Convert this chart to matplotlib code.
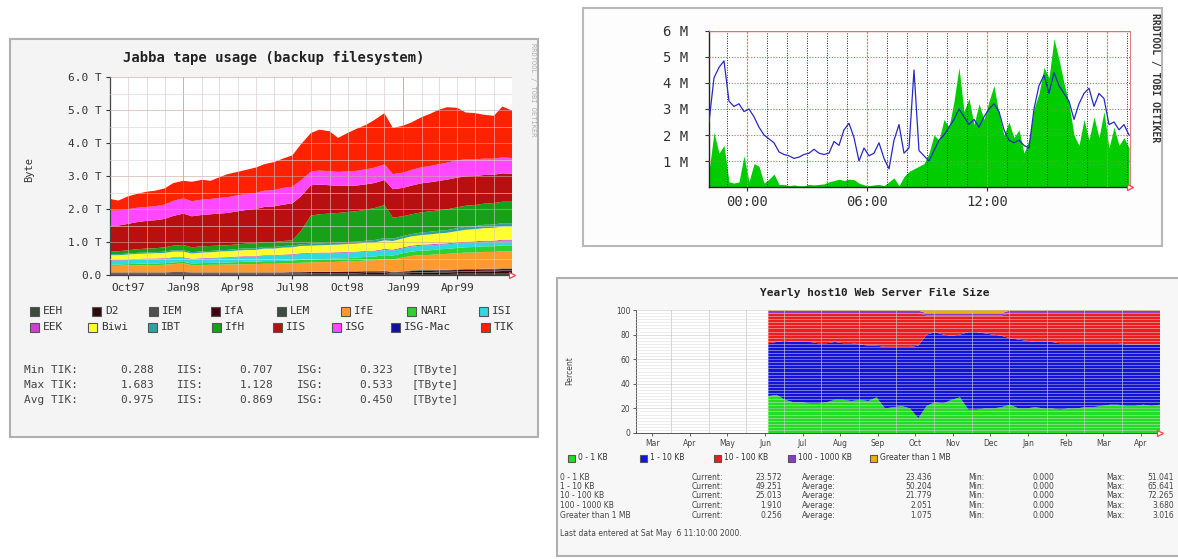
import matplotlib
matplotlib.use('Agg')
import matplotlib.pyplot as plt
import matplotlib.dates as mdates
import numpy as np
import pandas as pd
from matplotlib.patches import Rectangle

# ---------------- data: panel 1 (Jabba tape usage, TByte, semi-monthly) ----------------
p1_names = ['EEH', 'D2', 'IEM', 'IfA', 'LEM', 'IfE', 'NARI', 'ISI',
            'EEK', 'Biwi', 'IBT', 'IfH', 'IIS', 'ISG', 'ISG-Mac', 'TIK']
p1_colors = ['#3f4a3f', '#2e0a0a', '#505050', '#42000e', '#3c4c44', '#ff9a30', '#30d030', '#30d8e0',
             '#d040d0', '#ffff30', '#30a0a0', '#18a018', '#b81010', '#ff48ff', '#1010a0', '#ff2200']
p1_start = '1997-09-01'
EEH = [0.02, 0.02, 0.02, 0.02, 0.02, 0.02, 0.02, 0.02, 0.02, 0.02,
       0.02, 0.02, 0.02, 0.02, 0.02, 0.02, 0.02, 0.02, 0.02, 0.02,
       0.02, 0.02, 0.03, 0.03, 0.03, 0.03, 0.03, 0.03, 0.03, 0.03,
       0.03, 0.02, 0.02, 0.03, 0.03, 0.03, 0.03, 0.03, 0.04, 0.04,
       0.04, 0.04, 0.04, 0.04, 0.04]
D2 = [0.02, 0.02, 0.02, 0.02, 0.02, 0.02, 0.02, 0.03, 0.03, 0.02,
      0.02, 0.02, 0.02, 0.02, 0.02, 0.02, 0.02, 0.02, 0.02, 0.02,
      0.02, 0.02, 0.02, 0.02, 0.02, 0.02, 0.02, 0.02, 0.03, 0.03,
      0.03, 0.02, 0.03, 0.03, 0.04, 0.04, 0.05, 0.05, 0.05, 0.06,
      0.06, 0.07, 0.07, 0.08, 0.08]
IEM = [0.01, 0.01, 0.01, 0.01, 0.01, 0.01, 0.01, 0.01, 0.01, 0.01,
       0.01, 0.01, 0.01, 0.01, 0.01, 0.01, 0.01, 0.01, 0.01, 0.01,
       0.01, 0.01, 0.01, 0.01, 0.01, 0.01, 0.01, 0.01, 0.01, 0.01,
       0.02, 0.01, 0.02, 0.02, 0.02, 0.02, 0.02, 0.02, 0.02, 0.02,
       0.02, 0.02, 0.02, 0.02, 0.02]
IfA = [0.02, 0.02, 0.02, 0.02, 0.02, 0.02, 0.02, 0.02, 0.02, 0.02,
       0.02, 0.02, 0.02, 0.02, 0.02, 0.02, 0.02, 0.02, 0.02, 0.02,
       0.03, 0.03, 0.03, 0.03, 0.03, 0.03, 0.03, 0.03, 0.03, 0.03,
       0.03, 0.02, 0.02, 0.04, 0.04, 0.04, 0.04, 0.04, 0.04, 0.04,
       0.04, 0.04, 0.04, 0.04, 0.04]
LEM = [0.01, 0.01, 0.01, 0.01, 0.01, 0.01, 0.01, 0.01, 0.01, 0.01,
       0.01, 0.01, 0.01, 0.01, 0.01, 0.01, 0.01, 0.01, 0.01, 0.01,
       0.01, 0.01, 0.01, 0.01, 0.01, 0.01, 0.02, 0.02, 0.02, 0.02,
       0.02, 0.02, 0.02, 0.02, 0.02, 0.02, 0.02, 0.02, 0.02, 0.02,
       0.02, 0.02, 0.02, 0.02, 0.02]
IfE = [0.20, 0.20, 0.21, 0.21, 0.22, 0.22, 0.23, 0.24, 0.26, 0.22,
       0.22, 0.23, 0.23, 0.24, 0.24, 0.25, 0.25, 0.26, 0.26, 0.27,
       0.27, 0.28, 0.28, 0.29, 0.29, 0.30, 0.30, 0.31, 0.32, 0.33,
       0.35, 0.38, 0.42, 0.44, 0.45, 0.46, 0.47, 0.48, 0.49, 0.50,
       0.50, 0.51, 0.51, 0.52, 0.52]
NARI = [0.04, 0.04, 0.04, 0.05, 0.05, 0.05, 0.05, 0.05, 0.05, 0.05,
        0.06, 0.06, 0.06, 0.06, 0.07, 0.07, 0.07, 0.08, 0.08, 0.08,
        0.08, 0.09, 0.09, 0.09, 0.10, 0.10, 0.10, 0.11, 0.11, 0.11,
        0.12, 0.12, 0.13, 0.13, 0.14, 0.14, 0.15, 0.15, 0.16, 0.16,
        0.17, 0.17, 0.17, 0.18, 0.18]
ISI = [0.12, 0.12, 0.12, 0.13, 0.13, 0.13, 0.13, 0.14, 0.12, 0.12,
       0.13, 0.13, 0.14, 0.14, 0.15, 0.15, 0.15, 0.16, 0.16, 0.17,
       0.17, 0.18, 0.18, 0.18, 0.17, 0.17, 0.17, 0.16, 0.16, 0.16,
       0.16, 0.15, 0.15, 0.15, 0.15, 0.15, 0.14, 0.14, 0.14, 0.14,
       0.14, 0.14, 0.14, 0.14, 0.14]
EEK = [0.02, 0.02, 0.02, 0.02, 0.02, 0.02, 0.02, 0.02, 0.02, 0.02,
       0.02, 0.02, 0.02, 0.02, 0.02, 0.02, 0.02, 0.02, 0.02, 0.02,
       0.02, 0.02, 0.02, 0.02, 0.02, 0.02, 0.02, 0.02, 0.02, 0.02,
       0.03, 0.03, 0.03, 0.03, 0.03, 0.03, 0.03, 0.03, 0.03, 0.03,
       0.03, 0.03, 0.03, 0.03, 0.03]
Biwi = [0.14, 0.14, 0.15, 0.15, 0.15, 0.16, 0.16, 0.17, 0.17, 0.16,
        0.17, 0.17, 0.18, 0.18, 0.18, 0.19, 0.19, 0.20, 0.20, 0.21,
        0.21, 0.22, 0.22, 0.22, 0.23, 0.23, 0.24, 0.24, 0.25, 0.25,
        0.26, 0.26, 0.27, 0.28, 0.29, 0.30, 0.31, 0.32, 0.34, 0.36,
        0.37, 0.38, 0.39, 0.40, 0.40]
IBT = [0.03, 0.03, 0.03, 0.03, 0.03, 0.03, 0.04, 0.04, 0.04, 0.04,
       0.04, 0.04, 0.04, 0.04, 0.05, 0.05, 0.05, 0.05, 0.05, 0.05,
       0.05, 0.05, 0.06, 0.06, 0.06, 0.06, 0.06, 0.06, 0.06, 0.07,
       0.07, 0.07, 0.07, 0.07, 0.08, 0.08, 0.08, 0.08, 0.09, 0.09,
       0.09, 0.10, 0.10, 0.10, 0.10]
IfH = [0.08, 0.09, 0.10, 0.11, 0.12, 0.12, 0.13, 0.14, 0.16, 0.15,
       0.15, 0.15, 0.14, 0.14, 0.14, 0.14, 0.15, 0.15, 0.15, 0.15,
       0.16, 0.40, 0.85, 0.88, 0.89, 0.90, 0.91, 0.92, 0.94, 0.97,
       1.00, 0.64, 0.60, 0.60, 0.61, 0.62, 0.62, 0.63, 0.63, 0.64,
       0.64, 0.64, 0.65, 0.65, 0.65]
IIS = [0.78, 0.78, 0.80, 0.82, 0.84, 0.85, 0.86, 0.90, 0.95, 0.94,
       0.95, 0.96, 0.97, 0.98, 1.00, 1.02, 1.04, 1.06, 1.08, 1.10,
       1.12, 1.05, 0.92, 0.90, 0.86, 0.82, 0.80, 0.78, 0.77, 0.76,
       0.76, 0.86, 0.86, 0.87, 0.88, 0.88, 0.89, 0.90, 0.90, 0.89,
       0.88, 0.87, 0.86, 0.86, 0.85]
ISG = [0.46, 0.45, 0.44, 0.43, 0.42, 0.42, 0.43, 0.45, 0.46, 0.45,
       0.46, 0.46, 0.47, 0.47, 0.48, 0.48, 0.48, 0.49, 0.49, 0.50,
       0.50, 0.48, 0.41, 0.42, 0.42, 0.42, 0.43, 0.44, 0.45, 0.46,
       0.47, 0.45, 0.46, 0.47, 0.48, 0.49, 0.50, 0.51, 0.52, 0.51,
       0.50, 0.49, 0.48, 0.48, 0.47]
ISG_Mac = [0.005, 0.005, 0.005, 0.005, 0.005, 0.005, 0.005, 0.005, 0.005, 0.005,
           0.005, 0.005, 0.005, 0.005, 0.005, 0.005, 0.005, 0.005, 0.005, 0.005,
           0.005, 0.005, 0.005, 0.005, 0.005, 0.005, 0.005, 0.005, 0.005, 0.005,
           0.005, 0.005, 0.005, 0.005, 0.005, 0.005, 0.005, 0.005, 0.005, 0.005,
           0.005, 0.005, 0.005, 0.005, 0.005]
TIK = [0.35, 0.30, 0.39, 0.42, 0.46, 0.47, 0.49, 0.54, 0.53, 0.59,
       0.60, 0.55, 0.62, 0.70, 0.71, 0.73, 0.77, 0.80, 0.85, 0.89,
       0.95, 1.09, 1.17, 1.24, 1.21, 1.03, 1.16, 1.27, 1.35, 1.45,
       1.55, 1.40, 1.42, 1.44, 1.52, 1.58, 1.65, 1.68, 1.59, 1.42,
       1.40, 1.33, 1.30, 1.54, 1.44]
p1_series = [EEH, D2, IEM, IfA, LEM, IfE, NARI, ISI, EEK, Biwi, IBT, IfH, IIS, ISG, ISG_Mac, TIK]
p1_yticklabels = ['0.0', '1.0 T', '2.0 T', '3.0 T', '4.0 T', '5.0 T', '6.0 T']
p1_xticks = ['1997-10-01', '1998-01-01', '1998-04-01', '1998-07-01', '1998-10-01', '1999-01-01', '1999-04-01']
p1_xticklabels = ['Oct97', 'Jan98', 'Apr98', 'Jul98', 'Oct98', 'Jan99', 'Apr99']
p1_stats = [['Min TIK:', '0.288', 'IIS:', '0.707', 'ISG:', '0.323', '[TByte]'],
            ['Max TIK:', '1.683', 'IIS:', '1.128', 'ISG:', '0.533', '[TByte]'],
            ['Avg TIK:', '0.975', 'IIS:', '0.869', 'ISG:', '0.450', '[TByte]']]

# ---------------- data: panel 2 (traffic, M, 15-min steps from 22:06) ----------------
p2_in = [0.6, 2.1, 1.3, 1.6, 0.2, 0.15, 0.2, 1.2, 0.2, 0.9,
         0.8, 0.15, 0.3, 0.5, 0.1, 0.1, 0.05, 0.08, 0.05, 0.05,
         0.1, 0.08, 0.1, 0.12, 0.2, 0.25, 0.3, 0.25, 0.3, 0.28,
         0.15, 0.08, 0.05, 0.08, 0.1, 0.05, 0.2, 0.35, 0.05, 0.4,
         0.6, 0.7, 0.8, 0.9, 1.3, 2.0, 1.8, 2.6, 2.3, 3.3,
         4.6, 2.9, 3.4, 2.4, 3.2, 2.6, 3.3, 3.9, 2.8, 2.0,
         2.5, 1.9, 2.2, 1.3, 1.8, 3.0, 3.6, 4.6, 4.2, 5.7,
         4.9, 4.0, 3.2, 2.0, 1.6, 2.6, 1.8, 2.7, 1.9, 2.9,
         1.5, 2.3, 1.6, 1.9, 1.5]
p2_out = [2.5, 4.2, 4.6, 4.85, 3.3, 3.1, 3.2, 2.9, 3.0, 2.7,
          2.3, 2.0, 1.85, 1.7, 1.35, 1.25, 1.2, 1.1, 1.15, 1.25,
          1.3, 1.45, 1.3, 1.25, 1.3, 1.75, 1.6, 2.2, 2.45, 1.9,
          1.0, 1.5, 1.2, 1.3, 1.7, 1.1, 0.7, 1.8, 2.4, 1.3,
          1.5, 4.5, 1.4, 1.2, 1.0, 1.4, 1.8, 2.0, 2.3, 2.6,
          3.0, 2.7, 2.4, 2.6, 2.3, 2.7, 3.0, 3.2, 2.9, 2.2,
          1.8, 1.7, 1.8, 1.6, 1.5, 3.0, 3.9, 4.3, 3.6, 4.4,
          3.9, 3.6, 3.3, 2.6, 3.2, 3.6, 3.8, 3.1, 3.6, 3.4,
          2.4, 2.5, 2.2, 2.4, 2.0]
p2_yticklabels = ['1 M', '2 M', '3 M', '4 M', '5 M', '6 M']
p2_xticklabels = ['00:00', '06:00', '12:00']

# ---------------- data: panel 3 (file size percentages, weekly) ----------------
p3_names = ['0 - 1 KB', '1 - 10 KB', '10 - 100 KB', '100 - 1000 KB', 'Greater than 1 MB']
p3_colors = ['#22dd22', '#1414d8', '#ee1c1c', '#8a3cc8', '#e8b000']
p3_0_1 = [30, 31, 27, 25, 25, 24, 24, 25, 27, 27,
          26, 27, 26, 29, 20, 21, 22, 20, 12, 22,
          25, 24, 27, 29, 19, 19, 20, 20, 21, 23,
          20, 20, 21, 20, 20, 19, 20, 20, 21, 21,
          22, 23, 23, 22, 22, 23, 22, 23]
p3_1_10 = [43, 43, 48, 49, 49, 50, 49, 48, 47, 46,
           47, 45, 45, 42, 50, 49, 48, 50, 59, 58,
           57, 56, 52, 51, 63, 63, 61, 60, 58, 54,
           56, 55, 53, 54, 54, 54, 53, 53, 52, 52,
           51, 50, 50, 50, 50, 49, 50, 49]
p3_10_100 = [24.5, 23.5, 22.5, 23.5, 23.5, 23.5, 24.5, 24.5, 23.5, 24.5,
             24.5, 25.5, 26.5, 26.5, 27.5, 27.5, 27.5, 27.5, 26.5, 15.5,
             13.5, 15.5, 16.5, 15.5, 13.5, 13.5, 14.5, 15.5, 16.5, 20.6,
             21.6, 22.6, 23.6, 23.6, 23.6, 24.6, 24.6, 24.6, 24.6, 24.6,
             24.6, 24.6, 24.6, 25.6, 25.6, 25.6, 25.6, 25.6]
p3_100_1000 = [2.0, 2.0, 2.0, 2.0, 2.0, 2.0, 2.0, 2.0, 2.0, 2.0,
               2.0, 2.0, 2.0, 2.0, 2.0, 2.0, 2.0, 2.0, 2.0, 2.0,
               2.0, 2.0, 2.0, 2.0, 2.0, 2.0, 2.0, 2.0, 2.0, 2.0,
               2.0, 2.0, 2.0, 2.0, 2.0, 2.0, 2.0, 2.0, 2.0, 2.0,
               2.0, 2.0, 2.0, 2.0, 2.0, 1.9, 1.9, 1.9]
p3_gt_1mb = [0.5, 0.5, 0.5, 0.5, 0.5, 0.5, 0.5, 0.5, 0.5, 0.5,
             0.5, 0.5, 0.5, 0.5, 0.5, 0.5, 0.5, 0.5, 0.5, 2.5,
             2.5, 2.5, 2.5, 2.5, 2.5, 2.5, 2.5, 2.5, 2.5, 0.4,
             0.4, 0.4, 0.4, 0.4, 0.4, 0.4, 0.4, 0.4, 0.4, 0.4,
             0.4, 0.4, 0.4, 0.4, 0.4, 0.4, 0.4, 0.4]
p3_xticklabels = ['Mar', 'Apr', 'May', 'Jun', 'Jul', 'Aug', 'Sep', 'Oct', 'Nov', 'Dec', 'Jan', 'Feb', 'Mar', 'Apr']
p3_yticklabels = ['0', '20', '40', '60', '80', '100']
p3_stats = [['0 - 1 KB', '23.572', '23.436', '0.000', '51.041'],
            ['1 - 10 KB', '49.251', '50.204', '0.000', '65.641'],
            ['10 - 100 KB', '25.013', '21.779', '0.000', '72.265'],
            ['100 - 1000 KB', '1.910', '2.051', '0.000', '3.680'],
            ['Greater than 1 MB', '0.256', '1.075', '0.000', '3.016']]

# ---------------- figure helpers ----------------
W, H = 1178, 559
fig = plt.figure(figsize=(W / 100, H / 100), dpi=100)
fig.patch.set_facecolor('white')
MONO = 'DejaVu Sans Mono'
SANS = 'DejaVu Sans'


def box(x0, y0, x1, y1):
    return [x0 / W, 1 - y1 / H, (x1 - x0) / W, (y1 - y0) / H]


def frame(x0, y0, x1, y1, fc, ec, lw=1.2, z=0):
    r = Rectangle((x0 / W, 1 - y1 / H), (x1 - x0) / W, (y1 - y0) / H, transform=fig.transFigure,
                  facecolor=fc, edgecolor=ec, lw=lw, zorder=z)
    fig.add_artist(r)


def ftext(x, y, s, **kw):
    kw.setdefault('va', 'center')
    fig.text(x / W, 1 - y / H, s, **kw)


def square(x, y, c, s=9):
    r = Rectangle((x / W, 1 - (y + s / 2) / H), s / W, s / H, transform=fig.transFigure,
                  facecolor=c, edgecolor='#555555', lw=0.8, zorder=5)
    fig.add_artist(r)


def arrow(ax):
    ax.plot([1.0], [0.0], marker='>', ms=5, mfc='white', mec='#ff4040', mew=0.9,
            transform=ax.transAxes, clip_on=False, zorder=10)

# ---------------- panel 1 ----------------
frame(10, 39, 538, 437, '#f4f4f4', '#b0b0b0', lw=1.5)
ax1 = fig.add_axes(box(110, 77, 512, 275))
ax1.set_facecolor('white')
d1 = pd.date_range(p1_start, periods=len(TIK), freq='SMS')
x1 = mdates.date2num(d1)
ax1.stackplot(x1, *p1_series, colors=p1_colors, lw=0, zorder=2)
ax1.set_xlim(x1[0], x1[-1])
ax1.set_ylim(0, 6)
for m in pd.date_range('1997-10-01', '1999-07-01', freq='MS'):
    xm = mdates.date2num(m)
    c = '#a08080' if m.month == 1 else '#d8c4c4'
    ax1.axvline(xm, color=c, lw=0.6, alpha=0.7, zorder=3)
for v in np.arange(0.5, 6.01, 0.5):
    c = '#c8a8a8' if abs(v - round(v)) < 1e-6 else '#e0d4d4'
    ax1.axhline(v, color=c, lw=0.6, alpha=0.7, zorder=3)
ax1.set_yticks(range(7))
ax1.set_yticklabels(p1_yticklabels, family=MONO, fontsize=8, color='#333333')
ax1.set_xticks(mdates.date2num(pd.to_datetime(p1_xticks)))
ax1.set_xticklabels(p1_xticklabels, family=MONO, fontsize=8, color='#333333')
ax1.tick_params(axis='both', length=3, width=0.8, color='#333333', pad=3)
for s in ['top', 'right']:
    ax1.spines[s].set_visible(False)
for s in ['left', 'bottom']:
    ax1.spines[s].set_color('#444444')
    ax1.spines[s].set_linewidth(0.9)
arrow(ax1)
ftext(274, 58, 'Jabba tape usage (backup filesystem)', ha='center', family=MONO,
      fontsize=10, fontweight='bold', color='#222222')
ftext(29, 170, 'Byte', ha='center', rotation=90, family=MONO, fontsize=7.5, color='#333333')
ftext(533, 43, 'RRDTOOL / TOBI OETIKER', ha='center', va='top', rotation=270, family=MONO,
      fontsize=5, color='#b0b0b0')
leg_x = [[30, 92, 149, 211, 277, 341, 407, 479], [30, 88, 148, 212, 273, 332, 391, 481]]
leg_y = [311, 327]
for r in range(2):
    for c in range(8):
        idx = r * 8 + c
        square(leg_x[r][c], leg_y[r], p1_colors[idx])
        ftext(leg_x[r][c] + 13, leg_y[r], p1_names[idx], ha='left', family=MONO,
              fontsize=8, color='#333333')
stat_y = [370, 385, 400]
for r, row in enumerate(p1_stats):
    ftext(24, stat_y[r], row[0], ha='left', family=MONO, fontsize=8, color='#444444')
    ftext(154, stat_y[r], row[1], ha='right', family=MONO, fontsize=8, color='#444444')
    ftext(177, stat_y[r], row[2], ha='left', family=MONO, fontsize=8, color='#444444')
    ftext(273, stat_y[r], row[3], ha='right', family=MONO, fontsize=8, color='#444444')
    ftext(297, stat_y[r], row[4], ha='left', family=MONO, fontsize=8, color='#444444')
    ftext(393, stat_y[r], row[5], ha='right', family=MONO, fontsize=8, color='#444444')
    ftext(411, stat_y[r], row[6], ha='left', family=MONO, fontsize=8, color='#444444')

# ---------------- panel 2 ----------------
frame(583, 8, 1162, 246, '#fdfdfd', '#b8b8b8', lw=1.5)
ax2 = fig.add_axes(box(709, 31, 1130, 187))
ax2.set_facecolor('white')
t2 = -1.9 + 0.25 * np.arange(len(p2_in))
ax2.fill_between(t2, 0, p2_in, color='#00cc00', lw=0, zorder=2)
ax2.plot(t2, p2_out, color='#2828c8', lw=0.9, zorder=4)
ax2.set_xlim(-1.9, 19.15)
ax2.set_ylim(0, 6)
for h in range(-1, 20):
    if h % 6 == 0:
        ax2.axvline(h, color='#e07070', lw=0.8, ls=(0, (2, 1)), zorder=3)
    else:
        ax2.axvline(h, color='#222222', lw=0.7, ls=(0, (1, 1.5)), zorder=3)
for v in range(1, 7):
    ax2.axhline(v, color='#e06060', lw=0.8, ls=(0, (1, 1.5)), zorder=3)
ax2.axhline(6, color='#e07070', lw=1.0, zorder=3)
ax2.set_yticks(range(1, 7))
ax2.set_yticklabels(p2_yticklabels, family=MONO, fontsize=10, color='#333333')
ax2.set_xticks([0, 6, 12])
ax2.set_xticklabels(p2_xticklabels, family=MONO, fontsize=10, color='#333333')
ax2.tick_params(axis='y', length=3, width=0.8, color='#333333', pad=12)
ax2.tick_params(axis='x', length=3, width=0.8, color='#333333', pad=3)
ax2.spines['top'].set_visible(False)
ax2.spines['right'].set_color('#e08080')
for s in ['left', 'bottom']:
    ax2.spines[s].set_color('#222222')
    ax2.spines[s].set_linewidth(1.0)
arrow(ax2)
ftext(1155, 13, 'RRDTOOL / TOBI OETIKER', ha='center', va='top', rotation=270, family=MONO,
      fontsize=7, fontweight='bold', color='#333333')

# ---------------- panel 3 ----------------
frame(557, 278, 1180, 556, '#f7f7f7', '#b0b0b0', lw=1.5)
ax3 = fig.add_axes(box(636, 310, 1160, 433))
ax3.set_facecolor('white')
x3 = np.linspace(3.09, 13.51, len(p3_0_1))
ax3.stackplot(x3, p3_0_1, p3_1_10, p3_10_100, p3_100_1000, p3_gt_1mb, colors=p3_colors, lw=0, zorder=2)
ax3.set_xlim(-0.43, 13.51)
ax3.set_ylim(0, 100)
lab3 = np.arange(len(p3_xticklabels))
for xm in lab3 + 0.5:
    ax3.axvline(xm, color='#c4c4c4', lw=0.6, zorder=3, alpha=0.8)
for v in np.arange(2.5, 100.1, 2.5):
    c = '#c0c0c0' if v % 20 == 0 else '#dcdcdc'
    ax3.axhline(v, color=c, lw=0.5, zorder=3, alpha=0.7)
ax3.set_yticks([0, 20, 40, 60, 80, 100])
ax3.set_yticklabels(p3_yticklabels, family=SANS, fontsize=5.5, color='#444444')
ax3.set_xticks(lab3)
ax3.set_xticklabels(p3_xticklabels, family=SANS, fontsize=5.5, color='#444444')
ax3.tick_params(axis='both', length=2, width=0.6, color='#444444', pad=2)
for s in ['top', 'right']:
    ax3.spines[s].set_visible(False)
for s in ['left', 'bottom']:
    ax3.spines[s].set_color('#555555')
    ax3.spines[s].set_linewidth(0.7)
arrow(ax3)
ftext(875, 293, 'Yearly host10 Web Server File Size', ha='center', family=MONO,
      fontsize=8, fontweight='bold', color='#222222')
ftext(570, 371, 'Percent', ha='center', rotation=90, family=SANS, fontsize=5.5, color='#444444')
leg3_x = [568, 640, 714, 788, 870]
for i, nm in enumerate(p3_names):
    square(leg3_x[i], 458, p3_colors[i], s=7)
    ftext(leg3_x[i] + 10, 458, nm, ha='left', family=SANS, fontsize=5.5, color='#333333')
rows3 = [477, 486.5, 496, 505.5, 515]
for r, row in enumerate(p3_stats):
    y = rows3[r]
    ftext(560, y, row[0], ha='left', family=SANS, fontsize=5.5, color='#444444')
    ftext(692, y, 'Current:', ha='left', family=SANS, fontsize=5.5, color='#444444')
    ftext(782, y, row[1], ha='right', family=SANS, fontsize=5.5, color='#444444')
    ftext(802, y, 'Average:', ha='left', family=SANS, fontsize=5.5, color='#444444')
    ftext(932, y, row[2], ha='right', family=SANS, fontsize=5.5, color='#444444')
    ftext(968, y, 'Min:', ha='left', family=SANS, fontsize=5.5, color='#444444')
    ftext(1054, y, row[3], ha='right', family=SANS, fontsize=5.5, color='#444444')
    ftext(1106, y, 'Max:', ha='left', family=SANS, fontsize=5.5, color='#444444')
    ftext(1174, y, row[4], ha='right', family=SANS, fontsize=5.5, color='#444444')
ftext(560, 533, 'Last data entered at Sat May  6 11:10:00 2000.', ha='left', family=SANS,
      fontsize=5.5, color='#444444')

fig.savefig('out.png', dpi=100, facecolor='white')
